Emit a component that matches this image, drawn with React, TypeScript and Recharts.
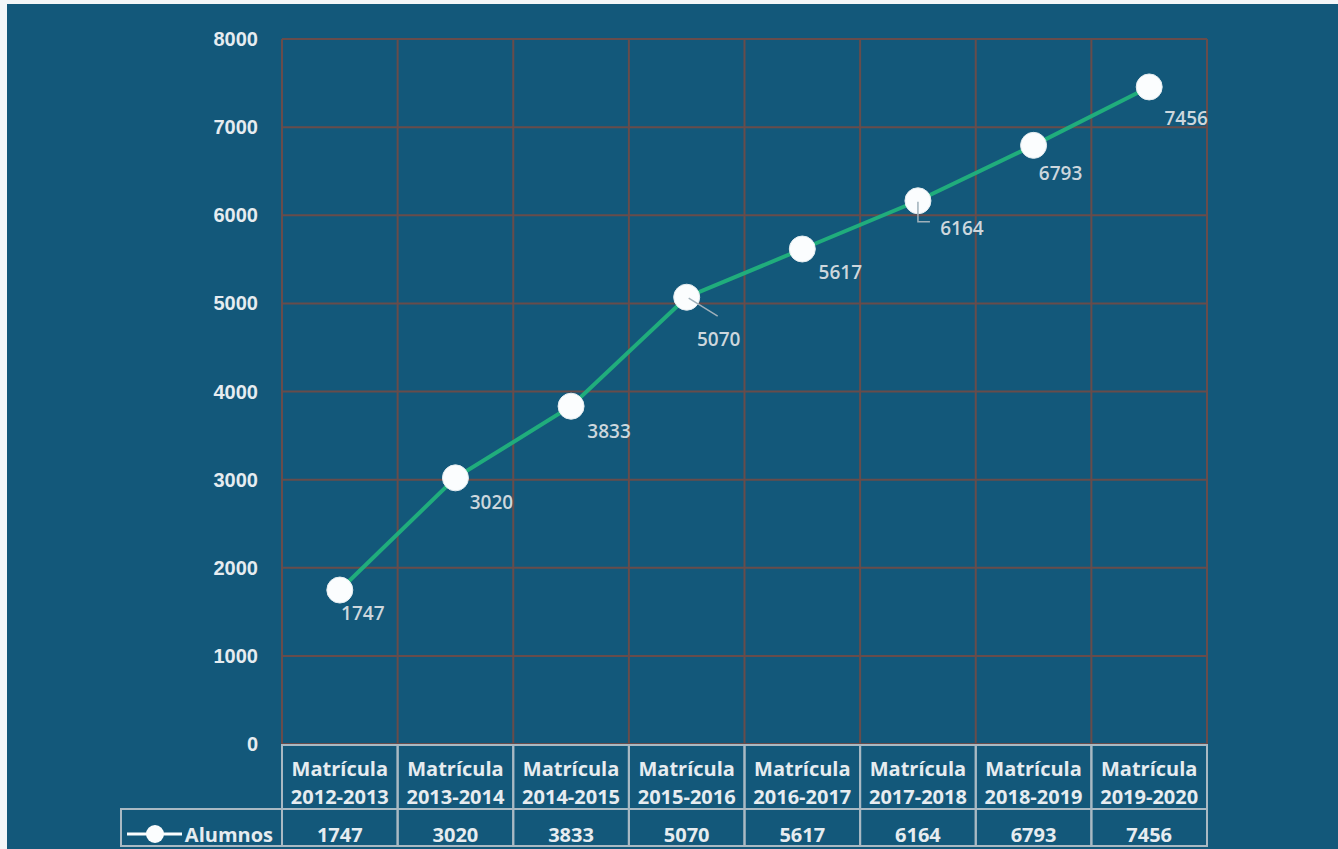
import { LineChart, Line, XAxis, YAxis, CartesianGrid, LabelList } from "recharts";

const CATEGORIES = [
  "Matrícula 2012-2013",
  "Matrícula 2013-2014",
  "Matrícula 2014-2015",
  "Matrícula 2015-2016",
  "Matrícula 2016-2017",
  "Matrícula 2017-2018",
  "Matrícula 2018-2019",
  "Matrícula 2019-2020",
];
const ALUMNOS = [1747, 3020, 3833, 5070, 5617, 6164, 6793, 7456];
const SERIES_NAME = "Alumnos";
const Y_TICKS = [0, 1000, 2000, 3000, 4000, 5000, 6000, 7000, 8000];

const data = CATEGORIES.map((periodo, i) => ({ periodo, alumnos: ALUMNOS[i] }));

// label placement relative to each point (dx, dy of text centre)
const LABEL_OFFSETS = [
  [23, 23],
  [36, 24],
  [38, 25],
  [32, 42],
  [38, 23],
  [44, 27],
  [27, 28],
  [37, 31],
];

const BG = "#13587a";
const GRID = "#684c4b";
const BORDER = "#a9b9c3";
const TEXT = "#e6ecf0";
const LABEL = "#cdd7dd";
const LINE = "#20ad7c";
const DOT = "#fbfdfe";

const CHART_W = 1331;
const CHART_H = 845;
const MARGIN = { top: 35, right: 131, bottom: 0, left: 0 };
const Y_AXIS_W = 275;
const X_AXIS_H = 105;
const PLOT_W = CHART_W - MARGIN.right - Y_AXIS_W - MARGIN.left;
const BAND = PLOT_W / CATEGORIES.length;

const tableFont = {
  fontFamily: "'Open Sans', sans-serif",
  fontWeight: 700,
  fontSize: 20,
  fill: TEXT,
};

const TableTick = (props: any) => {
  const { x, y, payload } = props;
  let index = CATEGORIES.indexOf(payload.value);
  if (index < 0) index = payload.index ?? 0;
  const [line1, line2] = String(payload.value).split(" ");
  const left = x - BAND / 2;
  return (
    <g>
      <rect x={left} y={y + 1} width={BAND} height={64} fill="none" stroke={BORDER} strokeWidth={2} />
      <rect x={left} y={y + 65} width={BAND} height={37} fill="none" stroke={BORDER} strokeWidth={2} />
      <text x={x} y={y + 24} textAnchor="middle" dominantBaseline="central" {...tableFont}>
        {line1}
      </text>
      <text x={x} y={y + 52} textAnchor="middle" dominantBaseline="central" {...tableFont}>
        {line2}
      </text>
      <text x={x} y={y + 90} textAnchor="middle" dominantBaseline="central" {...tableFont}>
        {ALUMNOS[index]}
      </text>
      {index === 0 && (
        <g>
          <rect x={left - 161} y={y + 65} width={161} height={37} fill="none" stroke={BORDER} strokeWidth={2} />
          <line x1={left - 155} y1={y + 90} x2={left - 100} y2={y + 90} stroke={DOT} strokeWidth={3} />
          <circle cx={left - 127} cy={y + 90} r={9} fill={DOT} />
          <text x={left - 9} y={y + 90} textAnchor="end" dominantBaseline="central" {...tableFont}>
            {SERIES_NAME}
          </text>
        </g>
      )}
    </g>
  );
};

const PointLabel = (props: any) => {
  const x = props.x ?? props.viewBox?.x;
  const y = props.y ?? props.viewBox?.y;
  const value = props.value;
  let index = ALUMNOS.indexOf(Number(value));
  if (index < 0) index = props.index ?? 0;
  const [dx, dy] = LABEL_OFFSETS[index] ?? [30, 25];
  return (
    <g>
      {index === 3 && (
        <line x1={x + 2} y1={y + 1} x2={x + 31} y2={y + 19} stroke="#9fb0ba" strokeWidth={1.5} />
      )}
      {index === 5 && (
        <polyline
          points={`${x},${y + 1} ${x},${y + 21} ${x + 12},${y + 21}`}
          fill="none"
          stroke="#9fb0ba"
          strokeWidth={1.5}
        />
      )}
      <text
        x={x + dx}
        y={y + dy}
        textAnchor="middle"
        dominantBaseline="central"
        fontFamily="'Open Sans', sans-serif"
        fontWeight={600}
        fontSize={19}
        fill={LABEL}
      >
        {value}
      </text>
    </g>
  );
};

export default function App() {
  return (
    <div
      style={{
        position: "absolute",
        left: 0,
        top: 0,
        width: 1338,
        height: 849,
        background: "#f3f6f8",
        overflow: "hidden",
      }}
    >
      <div
        style={{
          position: "absolute",
          left: 7,
          top: 4,
          width: CHART_W,
          height: CHART_H,
          background: BG,
        }}
      >
        <LineChart width={CHART_W} height={CHART_H} data={data} margin={MARGIN}>
          <CartesianGrid
            stroke={GRID}
            strokeWidth={2}
            verticalCoordinatesGenerator={({ offset }: any) =>
              Array.from(
                { length: CATEGORIES.length + 1 },
                (_, i) => offset.left + (i * offset.width) / CATEGORIES.length
              )
            }
          />
          <XAxis
            dataKey="periodo"
            height={X_AXIS_H}
            interval={0}
            axisLine={false}
            tickLine={false}
            tickSize={0}
            tickMargin={0}
            padding={{ left: BAND / 2, right: BAND / 2 }}
            tick={<TableTick />}
          />
          <YAxis
            width={Y_AXIS_W}
            domain={[0, 8000]}
            ticks={Y_TICKS}
            axisLine={false}
            tickLine={false}
            tickSize={0}
            tickMargin={24}
            tick={{
              fill: TEXT,
              fontFamily: "'Liberation Sans', Arial, sans-serif",
              fontWeight: 700,
              fontSize: 20,
            }}
          />
          <Line
            type="linear"
            dataKey="alumnos"
            name={SERIES_NAME}
            stroke={LINE}
            strokeWidth={4}
            dot={{ r: 13, fill: DOT, stroke: "#e4ecf0", strokeWidth: 1 }}
            activeDot={false}
            isAnimationActive={false}
          >
            <LabelList dataKey="alumnos" content={<PointLabel />} />
          </Line>
        </LineChart>
      </div>
    </div>
  );
}
